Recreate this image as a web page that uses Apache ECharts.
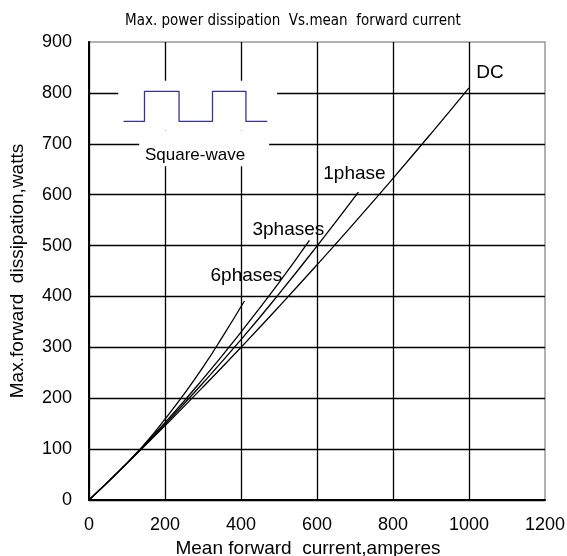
<!DOCTYPE html>
<html>
<head>
<meta charset="utf-8">
<script src="https://cdn.jsdelivr.net/npm/echarts@6/dist/echarts.min.js"></script>
<style>html,body{margin:0;padding:0;background:#fff;}#c{width:567px;height:556px;}</style>
</head>
<body>
<div id="c"></div>
<script>
const xTicks = [0, 200, 400, 600, 800, 1000, 1200];
const yTicks = [0, 100, 200, 300, 400, 500, 600, 700, 800, 900];

const currentDC = [0, 100, 200, 300, 400, 500, 600, 700, 800, 900, 1000];
const powerDC   = [0, 72, 146, 222, 300, 380, 462, 546, 632, 720, 810];

const current1ph = [0, 100, 200, 300, 400, 500, 600, 709];
const power1ph   = [0, 72, 149, 230, 315, 405, 499, 605];

const current3ph = [0, 100, 200, 300, 400, 500, 580];
const power3ph   = [0, 73, 152, 238, 330, 427, 510];

const current6ph = [0, 100, 150, 200, 250, 300, 350, 409];
const power6ph   = [0, 72, 113, 159, 208, 261, 319, 391];

const waveX = [91, 146, 146, 237, 237, 325, 325, 413, 413, 469];
const waveY = [744, 744, 803, 803, 744, 744, 803, 803, 744, 744];

const seriesNames = ['DC', '1phase', '3phases', '6phases'];
const labelOffsets = [[21, -15], [-4, -18], [-21, -11], [2, -25]];

const FONT = '"Liberation Sans", Arial, sans-serif';
const zip = (a, b) => a.map((v, i) => [v, b[i]]);

const curves = [
  zip(currentDC, powerDC),
  zip(current1ph, power1ph),
  zip(current3ph, power3ph),
  zip(current6ph, power6ph)
];

const chart = echarts.init(document.getElementById('c'), null, {renderer: 'canvas'});

const series = curves.map((d, i) => ({
  type: 'line',
  name: seriesNames[i],
  data: d,
  showSymbol: false,
  smooth: true,
  lineStyle: {color: '#000', width: 1.3},
  z: 5,
  endLabel: {
    show: true,
    formatter: seriesNames[i],
    color: '#000',
    fontFamily: FONT,
    fontSize: 19,
    align: 'center',
    verticalAlign: 'middle',
    distance: 0,
    offset: labelOffsets[i]
  },
  animation: false
}));

series.push({
  type: 'line',
  name: 'wave',
  data: zip(waveX, waveY),
  showSymbol: false,
  lineStyle: {color: '#333399', width: 1.3},
  z: 6,
  animation: false,
  markArea: {
    silent: true,
    itemStyle: {color: '#fff', opacity: 1},
    data: [
      [{coord: [77, 824]}, {coord: [495, 726]}],
      [{coord: [132, 726]}, {coord: [474, 656]}]
    ]
  }
});

chart.setOption({
  animation: false,
  backgroundColor: '#fff',
  title: {
    text: 'Max. power dissipation  Vs.mean  forward current',
    left: 120,
    top: 9,
    textStyle: {fontFamily: '"Liberation Sans Narrow", "DejaVu Sans Condensed", Arial, sans-serif', fontSize: 15, fontWeight: 'normal', color: '#000'}
  },
  graphic: [{
    type: 'text',
    left: 145,
    top: 147,
    z: 10,
    style: {text: 'Square-wave', fontFamily: FONT, fontSize: 17, fill: '#000'}
  }],
  grid: {left: 89, right: 22, top: 42, bottom: 56, show: true, borderColor: '#999', borderWidth: 1.5,
         backgroundColor: 'transparent', containLabel: false, outerBoundsMode: 'none'},
  xAxis: {
    type: 'value',
    min: xTicks[0], max: xTicks[xTicks.length - 1], interval: 200,
    name: 'Mean forward  current,amperes',
    nameLocation: 'middle',
    nameGap: 32,
    nameTextStyle: {fontFamily: FONT, fontSize: 19, color: '#000', padding: [0, 18, 0, 0]},
    axisLine: {show: true, lineStyle: {color: '#000', width: 2}},
    axisTick: {show: false},
    axisLabel: {fontFamily: FONT, fontSize: 18, color: '#000', margin: 16, formatter: v => String(v)},
    splitLine: {show: true, showMaxLine: false, lineStyle: {color: '#000', width: 1.3}}
  },
  yAxis: {
    type: 'value',
    min: yTicks[0], max: yTicks[yTicks.length - 1], interval: 100,
    name: 'Max.forward  dissipation,watts',
    nameLocation: 'middle',
    nameGap: 62,
    nameTextStyle: {fontFamily: FONT, fontSize: 19, color: '#000'},
    axisLine: {show: true, lineStyle: {color: '#000', width: 2}},
    axisTick: {show: false},
    axisLabel: {fontFamily: FONT, fontSize: 18, color: '#000', margin: 17, formatter: v => String(v)},
    splitLine: {show: true, showMaxLine: false, lineStyle: {color: '#000', width: 1.3}}
  },
  series: series
});
</script>
</body>
</html>
